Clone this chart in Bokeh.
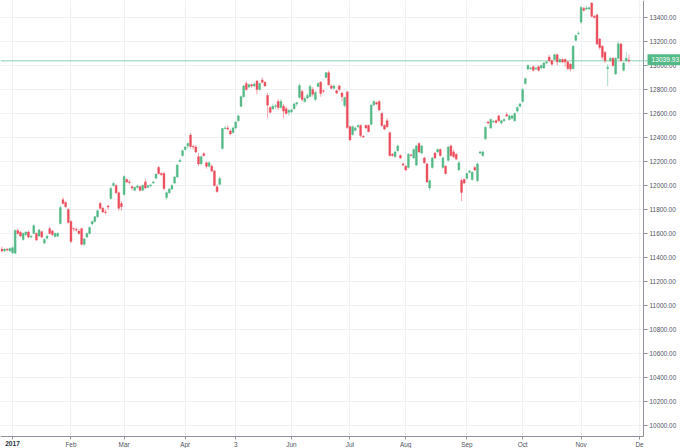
import pandas as pd
from bokeh.plotting import figure
from bokeh.models import (FixedTicker, Span, Label, ColumnDataSource, Range1d,
                          NumeralTickFormatter, BoxAnnotation)
from bokeh.embed import file_html
from bokeh.resources import INLINE

opens = [11470, 11455, 11468, 11455,
    11440, 11435, 11625, 11610, 11550, 11590, 11612, 11570, 11600, 11600,
    11580, 11615, 11520, 11560, 11640, 11620, 11575, 11578, 11683, 11882, 11858, 11800,
    11700, 11640, 11635, 11620, 11640, 11510, 11570, 11600, 11680, 11700,
    11740, 11850, 11810, 11780, 11830, 11892, 12000, 12000, 11940, 11850,
    11925, 12050, 12030, 11990, 11960, 11985, 11990, 11960, 12030, 11985, 11998, 12020,
    12060, 12150, 12100, 12100, 11900, 11940, 11970, 12020, 12070, 12200, 12250,
    12300, 12330, 12420, 12325, 12320, 12240, 12180, 12265, 12190, 12160, 12160, 12120,
    11990, 12010, 12308, 12475, 12480, 12455,
    12440, 12480, 12540, 12660, 12740, 12850, 12820, 12840, 12830, 12870, 12800, 12880,
    12860, 12750, 12650, 12640, 12660, 12700, 12650, 12660, 12640, 12610,
    12615, 12640, 12680, 12733, 12783, 12700, 12730, 12741, 12800, 12717, 12825, 12860,
    12790, 12900, 12940, 12830, 12810, 12790, 12830, 12770, 12667, 12780,
    12490, 12425, 12460, 12490, 12500, 12410, 12500, 12500, 12510, 12670, 12690,
    12700, 12600, 12500, 12540, 12440, 12260, 12240, 12290, 12250, 12180,
    12160, 12150, 12255, 12230, 12170, 12350, 12270, 12230, 12180, 11980, 12150, 12270,
    12280, 12300, 12150, 12160, 12210, 12330, 12280, 12260, 12130, 12042, 12050,
    12060, 12110, 12050, 12150, 12040, 12270, 12250, 12389, 12530, 12480, 12530,
    12540, 12580, 12520, 12540, 12590, 12550, 12560, 12540, 12620, 12660,
    12700, 12850, 12970, 12975, 12990, 12970, 12990, 12980, 12980, 13020, 13070, 13040,
    13050, 13090, 13030, 13050, 13050, 13030, 13010, 12975, 13210, 13265,
    13361, 13475, 13470, 13470, 13520, 13410, 13420, 13220, 13160, 13110,
    12975, 13040, 13060, 12930, 13060, 13180, 12960, 13040, 13045]

closes = [11455, 11468, 11462, 11475,
    11482, 11625, 11600, 11580, 11600, 11612, 11570, 11578, 11665, 11545,
    11630, 11570, 11550, 11578, 11600, 11590, 11600, 11602, 11817, 11850, 11822, 11692,
    11533, 11638, 11628, 11600, 11510, 11555, 11600, 11650, 11700, 11740,
    11790, 11810, 11780, 11775, 11820, 11975, 12017, 11940, 11810, 11825,
    12075, 12030, 12025, 11980, 11985, 11995, 11960, 12000, 11980, 11998, 12005, 12030,
    12095, 12100, 12090, 11975, 11940, 11970, 12000, 12070, 12170, 12210, 12290,
    12320, 12350, 12325, 12320, 12280, 12180, 12240, 12250, 12160, 12190, 12120, 12000,
    11950, 12058, 12475, 12480, 12470, 12430,
    12480, 12530, 12580, 12740, 12830, 12800, 12840, 12830, 12845, 12800, 12850, 12860,
    12830, 12670, 12610, 12660, 12665, 12650, 12700, 12620, 12600, 12625,
    12630, 12680, 12690, 12833, 12717, 12725, 12750, 12825, 12760, 12775, 12850, 12767,
    12785, 12940, 12840, 12810, 12830, 12770, 12800, 12740, 12733, 12483,
    12380, 12490, 12480, 12500, 12417, 12405, 12480, 12450, 12670, 12700, 12680,
    12630, 12500, 12470, 12490, 12250, 12250, 12280, 12330, 12230, 12170,
    12130, 12260, 12250, 12300, 12330, 12280, 12330, 12190, 12030, 12040, 12230, 12230,
    12300, 12250, 12230, 12100, 12320, 12250, 12240, 12220, 12190, 11942, 12020,
    12100, 12120, 12110, 12130, 12180, 12280, 12280, 12486, 12520, 12550, 12535,
    12525, 12540, 12540, 12550, 12580, 12580, 12580, 12600, 12650, 12680,
    12800, 12890, 13000, 12980, 12960, 12978, 12960, 13000, 13020, 13030, 13040, 13010,
    13090, 13030, 13050, 13030, 13030, 12975, 12970, 13160, 13250, 13270,
    13486, 13460, 13480, 13482, 13410, 13400, 13180, 13150, 13070, 13040,
    12985, 13060, 13000, 13060, 13180, 13040, 13020, 13060, 13039.93]

highs = [11490, 11480, 11480, 11485,
    11490, 11635, 11640, 11620, 11610, 11620, 11625, 11590, 11680, 11610,
    11640, 11625, 11560, 11590, 11655, 11630, 11610, 11610, 11830, 11900, 11870, 11810,
    11710, 11650, 11650, 11635, 11650, 11565, 11610, 11660, 11710, 11745,
    11800, 11865, 11825, 11800, 11840, 11990, 12030, 12010, 11950, 11870,
    12085, 12060, 12045, 12000, 11990, 12010, 12000, 12010, 12060, 12005, 12015, 12040,
    12100, 12165, 12110, 12115, 11950, 11980, 12010, 12080, 12180, 12225, 12300,
    12330, 12360, 12440, 12340, 12335, 12270, 12250, 12280, 12200, 12200, 12175, 12130,
    12010, 12075, 12480, 12495, 12500, 12470,
    12490, 12535, 12590, 12750, 12840, 12870, 12850, 12850, 12860, 12880, 12860, 12900,
    12870, 12770, 12660, 12680, 12680, 12720, 12720, 12680, 12660, 12640,
    12640, 12690, 12700, 12850, 12800, 12740, 12770, 12840, 12820, 12790, 12860, 12870,
    12800, 12945, 12958, 12845, 12840, 12800, 12840, 12780, 12740, 12790,
    12500, 12500, 12490, 12510, 12510, 12420, 12510, 12510, 12680, 12710, 12700,
    12710, 12610, 12510, 12560, 12450, 12270, 12290, 12340, 12260, 12190,
    12170, 12270, 12265, 12310, 12340, 12360, 12340, 12240, 12190, 12050, 12240, 12280,
    12310, 12310, 12240, 12170, 12330, 12340, 12300, 12270, 12200, 12060, 12060,
    12110, 12130, 12120, 12160, 12190, 12290, 12290, 12495, 12540, 12560, 12545,
    12550, 12590, 12550, 12560, 12610, 12590, 12590, 12610, 12660, 12690,
    12810, 12900, 13010, 12990, 13000, 12990, 13000, 13010, 13030, 13040, 13090, 13050,
    13100, 13100, 13060, 13060, 13060, 13040, 13020, 13170, 13260, 13285,
    13490, 13490, 13495, 13490, 13525, 13420, 13430, 13230, 13170, 13120,
    13010, 13070, 13070, 13070, 13200, 13190, 13030, 13110, 13090]

lows = [11440, 11445, 11450, 11445,
    11430, 11430, 11590, 11570, 11540, 11580, 11560, 11560, 11595, 11540,
    11570, 11560, 11510, 11550, 11595, 11580, 11565, 11570, 11675, 11845, 11815, 11685,
    11520, 11620, 11615, 11590, 11500, 11495, 11560, 11590, 11665, 11690,
    11730, 11800, 11770, 11760, 11800, 11880, 11990, 11930, 11790, 11790,
    11915, 12020, 12010, 11960, 11950, 11970, 11950, 11955, 11970, 11975, 11985, 12015,
    12055, 12090, 12080, 11960, 11880, 11930, 11960, 12015, 12065, 12195, 12240,
    12290, 12310, 12310, 12300, 12270, 12160, 12170, 12240, 12140, 12150, 12110, 11990,
    11940, 12000, 12300, 12465, 12460, 12420,
    12435, 12470, 12530, 12650, 12730, 12790, 12810, 12815, 12820, 12760, 12790, 12850,
    12820, 12560, 12600, 12630, 12640, 12630, 12640, 12560, 12590, 12580,
    12600, 12630, 12660, 12725, 12700, 12690, 12720, 12735, 12740, 12700, 12820, 12740,
    12770, 12895, 12830, 12800, 12800, 12760, 12790, 12700, 12650, 12470,
    12370, 12415, 12450, 12480, 12400, 12395, 12470, 12440, 12500, 12660, 12670,
    12620, 12490, 12460, 12480, 12240, 12240, 12230, 12280, 12220, 12160,
    12120, 12140, 12240, 12220, 12160, 12270, 12260, 12180, 12020, 11960, 12140, 12220,
    12270, 12240, 12140, 12090, 12200, 12240, 12230, 12210, 12120, 11870, 12010,
    12050, 12100, 12040, 12120, 12030, 12260, 12240, 12380, 12510, 12470, 12520,
    12515, 12530, 12510, 12530, 12570, 12540, 12550, 12530, 12610, 12650,
    12690, 12840, 12960, 12960, 12950, 12960, 12950, 12970, 12970, 13010, 13030, 13000,
    13040, 13000, 13020, 13020, 12990, 12960, 12950, 12965, 13200, 13255,
    13350, 13450, 13460, 13460, 13400, 13390, 13170, 13130, 13050, 13020,
    12830, 13030, 12990, 12920, 13050, 13030, 12950, 13030, 13020]

tick_dates = ["2017-01-02", "2017-02-01", "2017-03-01", "2017-04-03", "2017-05-03", "2017-06-01",
              "2017-07-03", "2017-08-01", "2017-09-01", "2017-10-02", "2017-11-01", "2017-12-01"]
tick_labels = ["2017", "Feb", "Mar", "Apr", "3", "Jun", "Jul", "Aug", "Sep", "Oct", "Nov", "De"]
price_ticks = list(range(10000, 13401, 200))
last_price = 13039.93

holidays = pd.to_datetime(["2017-04-14", "2017-04-17", "2017-05-01"])
dates = pd.bdate_range("2016-12-27", "2017-12-01")
dates = list(dates[~dates.isin(holidays)])

GREEN = "#53b987"
RED = "#eb4d5c"
AXIS = "#8f929b"
GRID = "#eef1f6"
FONT = "Liberation Sans"

n = len(opens)
idx = list(range(n))
tops = [max(o, c) for o, c in zip(opens, closes)]
bots = [min(o, c) for o, c in zip(opens, closes)]
hi = [max(h, t) for h, t in zip(highs, tops)]
lo = [min(l, b) for l, b in zip(lows, bots)]
cols = [GREEN if c >= o else RED for o, c in zip(opens, closes)]
src = ColumnDataSource(dict(x=idx, top=tops, bottom=bots, high=hi, low=lo, color=cols))

tick_idx = [dates.index(pd.Timestamp(d)) for d in tick_dates]

# data window; axes are drawn inside the canvas at fixed locations
X0, XAX, X1 = -0.52, 241.5, 255.41
YAX, Y1, Y0 = 9908.3, 13541.7, 9808.3

p = figure(width=680, height=448, output_backend="svg", toolbar_location=None,
           x_range=Range1d(X0, X1), y_range=Range1d(Y0, Y1),
           y_axis_location="right", min_border_left=0, min_border_top=0,
           min_border_right=0, min_border_bottom=0)
p.outline_line_color = None
p.background_fill_color = "white"

p.xgrid.ticker = FixedTicker(ticks=tick_idx)
p.ygrid.ticker = FixedTicker(ticks=price_ticks)
p.xgrid.grid_line_color = GRID
p.ygrid.grid_line_color = GRID

p.add_layout(BoxAnnotation(left=XAX, fill_color="white", fill_alpha=1, line_color=None, level="underlay"))
p.add_layout(BoxAnnotation(top=YAX, fill_color="white", fill_alpha=1, line_color=None, level="underlay"))

p.segment(x0="x", y0="low", x1="x", y1="high", source=src, line_color="color",
          line_alpha=0.5, line_width=1)
p.vbar(x="x", width=0.72, top="top", bottom="bottom", source=src,
       fill_color="color", line_color="color", line_width=0.4)

p.add_layout(Span(location=last_price, dimension="width", line_color=GREEN,
                  line_alpha=0.45, line_width=1.5, level="underlay"))

yax = p.yaxis[0]
yax.fixed_location = XAX
yax.bounds = (YAX, Y1)
yax.ticker = FixedTicker(ticks=price_ticks)
yax.formatter = NumeralTickFormatter(format="0.00")
xax = p.xaxis[0]
xax.fixed_location = YAX
xax.bounds = (X0, XAX)
xax.ticker = FixedTicker(ticks=tick_idx)
xax.major_label_overrides = {m: (lab if lab != "2017" else "") for m, lab in zip(tick_idx, tick_labels)}
for ax in (xax, yax):
    ax.major_label_text_font = FONT
    ax.major_label_text_font_size = "6.4px"
    ax.major_label_text_color = "#50535e"
    ax.axis_line_color = AXIS
    ax.major_tick_line_color = AXIS
    ax.major_tick_out = 4
    ax.major_tick_in = 0
    ax.minor_tick_line_color = None
    ax.major_label_standoff = 2
xax.major_tick_out = 3
xax.major_label_standoff = 1

p.add_layout(Label(x=tick_idx[0], y=YAX, text=tick_labels[0], text_font=FONT,
                   text_font_size="6.6px", text_font_style="bold", text_color="#2f3240",
                   text_align="center", text_baseline="top", y_offset=-4))

p.add_layout(Label(x=XAX, y=last_price, text="%.2f" % last_price, text_font=FONT,
                   text_font_size="6.6px", text_color="white", text_align="left",
                   text_baseline="middle", x_offset=4, y_offset=1,
                   background_fill_color=GREEN, padding=(4, 3)))

open("out.html", "w").write(file_html(p, INLINE))
